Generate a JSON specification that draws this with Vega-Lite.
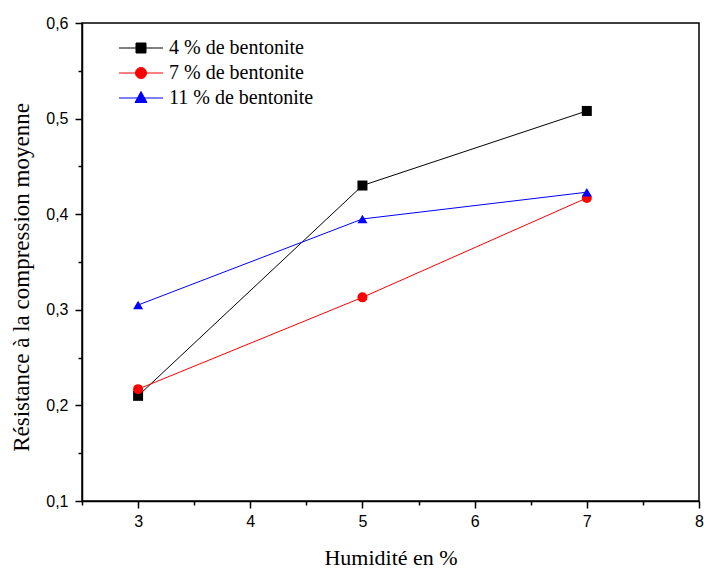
{
  "$schema": "https://vega.github.io/schema/vega-lite/v6.json",
  "autosize": "none",
  "width": 617,
  "height": 478,
  "padding": {"left": 82, "top": 23, "right": 5, "bottom": 67},
  "background": "white",
  "config": {
    "view": {"stroke": "black", "strokeWidth": 1.5}
  },
  "data": {
    "values": [
      {"h": 3, "r": 0.210, "s": "4 % de bentonite"},
      {"h": 5, "r": 0.430, "s": "4 % de bentonite"},
      {"h": 7, "r": 0.508, "s": "4 % de bentonite"},
      {"h": 3, "r": 0.217, "s": "7 % de bentonite"},
      {"h": 5, "r": 0.313, "s": "7 % de bentonite"},
      {"h": 7, "r": 0.417, "s": "7 % de bentonite"},
      {"h": 3, "r": 0.305, "s": "11 % de bentonite"},
      {"h": 5, "r": 0.395, "s": "11 % de bentonite"},
      {"h": 7, "r": 0.423, "s": "11 % de bentonite"}
    ]
  },
  "encoding": {
    "x": {
      "field": "h", "type": "quantitative",
      "scale": {"domain": [2.5, 8], "nice": false, "zero": false},
      "axis": {
        "title": "Humidité en %",
        "grid": false,
        "domainColor": "black", "domainWidth": 1.5, "tickColor": "black", "tickWidth": 1.5,
        "labelFont": "Liberation Sans, Arial, sans-serif", "labelFontSize": 16, "labelColor": "black",
        "titleFont": "Liberation Serif, Times New Roman, serif", "titleFontSize": 22, "titleFontWeight": "normal", "titleColor": "black",
        "values": [2.5, 3, 3.5, 4, 4.5, 5, 5.5, 6, 6.5, 7, 7.5, 8],
        "labelExpr": "round(datum.value*2) % 2 == 0 ? format(datum.value, 'd') : ''",
        "tickSize": {"condition": {"test": "round(datum.value*2) % 2 == 0", "value": 7}, "value": 4},
        "labelPadding": 5,
        "titlePadding": 18,
        "labelFlush": false
      }
    },
    "y": {
      "field": "r", "type": "quantitative",
      "scale": {"domain": [0.1, 0.6], "nice": false, "zero": false},
      "axis": {
        "title": "Résistance à la compression moyenne",
        "grid": false,
        "domainColor": "black", "domainWidth": 1.5, "tickColor": "black", "tickWidth": 1.5,
        "labelFont": "Liberation Sans, Arial, sans-serif", "labelFontSize": 16, "labelColor": "black",
        "titleFont": "Liberation Serif, Times New Roman, serif", "titleFontSize": 23, "titleFontWeight": "normal", "titleColor": "black",
        "titleY": 254,
        "values": [0.1, 0.15, 0.2, 0.25, 0.3, 0.35, 0.4, 0.45, 0.5, 0.55, 0.6],
        "labelExpr": "round(datum.value*20) % 2 == 0 ? replace(format(datum.value, '.1f'), '.', ',') : ''",
        "tickSize": {"condition": {"test": "round(datum.value*20) % 2 == 0", "value": 7}, "value": 4},
        "labelPadding": 7,
        "titlePadding": 12,
        "labelFlush": false
      }
    }
  },
  "resolve": {"legend": {"color": "independent", "shape": "independent"}},
  "layer": [
    {
      "mark": {"type": "line", "strokeWidth": 1},
      "encoding": {
        "color": {
          "field": "s", "type": "nominal",
          "scale": {"domain": ["4 % de bentonite", "7 % de bentonite", "11 % de bentonite"], "range": ["black", "red", "blue"]},
          "legend": {
            "title": null,
            "orient": "none",
            "legendX": 49,
            "legendY": 15,
            "padding": 0,
            "symbolSize": 100,
            "symbolStrokeWidth": 1,
            "labelOffset": 18,
            "rowPadding": 5,
            "labelFont": "Liberation Serif, Times New Roman, serif",
            "labelFontSize": 20,
            "labelColor": "black",
            "labelLimit": 300,
            "encode": {
              "symbols": {
                "update": {
                  "shape": {"signal": "datum.value === '4 % de bentonite' ? 'M-4.4,0H4.4M-1,-1H1V1H-1Z' : datum.value === '7 % de bentonite' ? 'M-4.4,0H4.4M1.1,0A1.1,1.1 0 1,1 -1.1,0A1.1,1.1 0 1,1 1.1,0Z' : 'M-4.4,0H4.4M0,-1.3L1.2,0.9H-1.2Z'"},
                  "fill": {"scale": "color", "field": "value"},
                  "stroke": {"scale": "color", "field": "value"},
                  "opacity": {"value": 1},
                  "strokeWidth": {"value": 1}
                }
              }
            }
          }
        }
      }
    },
    {
      "mark": {"type": "point", "filled": true, "opacity": 1, "size": 100},
      "encoding": {
        "color": {"field": "s", "type": "nominal", "legend": null},
        "shape": {
          "field": "s", "type": "nominal",
          "scale": {"domain": ["4 % de bentonite", "7 % de bentonite", "11 % de bentonite"], "range": ["square", "circle", "triangle-up"]},
          "legend": null
        }
      }
    }
  ]
}
